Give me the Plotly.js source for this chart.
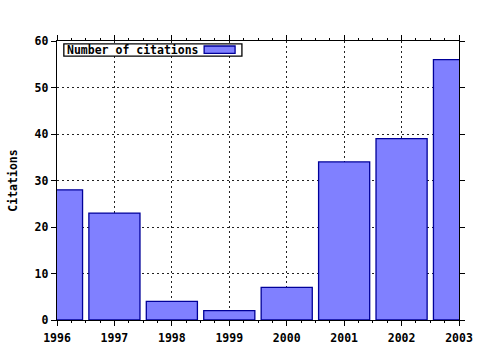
<!DOCTYPE html>
<html><head><meta charset="utf-8">
<script src="https://cdn.plot.ly/plotly-3.0.1.min.js"></script>
<style>html,body{margin:0;padding:0;background:#fff}</style>
</head><body>
<div id="chart" style="width:480px;height:350px"></div>
<script>
const years = [1996, 1997, 1998, 1999, 2000, 2001, 2002, 2003];
const citations = [28, 23, 4, 2, 7, 34, 39, 56];
const seriesName = "Number of citations";
const yTicks = [0, 10, 20, 30, 40, 50, 60];

const font = {family: "DejaVu Sans Mono, monospace", size: 11.5, color: "#000", weight: "bold"};

const trace = {
  type: "bar", x: years, y: citations, name: seriesName, width: 0.89,
  marker: {color: "#8080ff", line: {color: "#000099", width: 1.3}},
  showlegend: false, cliponaxis: true
};

const axisCommon = {
  showline: true, linecolor: "#000", linewidth: 1.3, mirror: "ticks",
  ticks: "outside", ticklen: 5, tickcolor: "#000", tickwidth: 1,
  showgrid: true, gridcolor: "#222", griddash: "2px,3px", gridwidth: 1,
  zeroline: false, tickfont: font, fixedrange: true
};

const layout = {
  width: 480, height: 350,
  margin: {l: 57, r: 21, t: 41, b: 30},
  paper_bgcolor: "#fff", plot_bgcolor: "#fff",
  font: font,
  bargap: 0,
  xaxis: Object.assign({}, axisCommon, {
    range: [years[0], years[years.length - 1]], tickvals: years, ticktext: years.map(String),
    ticklabelstandoff: 2,
    minor: {dtick: 0.25, ticks: "outside", ticklen: 2, tickcolor: "#000", showgrid: false}
  }),
  yaxis: Object.assign({}, axisCommon, {
    range: [yTicks[0], yTicks[yTicks.length - 1]], tickvals: yTicks,
    title: {text: "Citations", font: font, standoff: 14}
  }),
  shapes: [
    {type: "rect", xref: "paper", yref: "paper", x0: 0.017, x1: 0.46, y0: 0.946, y1: 0.99,
     fillcolor: "#fff", line: {color: "#000", width: 1.3}, layer: "above"},
    {type: "rect", xref: "paper", yref: "paper", x0: 0.366, x1: 0.443, y0: 0.956, y1: 0.982,
     fillcolor: "#8080ff", line: {color: "#000099", width: 1.3}, layer: "above"}
  ],
  annotations: [
    {xref: "paper", yref: "paper", x: 0.02, y: 0.968, xanchor: "left", yanchor: "middle",
     text: seriesName, showarrow: false, font: font}
  ]
};

Plotly.newPlot("chart", [trace], layout, {staticPlot: true, displayModeBar: false});
</script>
</body></html>
